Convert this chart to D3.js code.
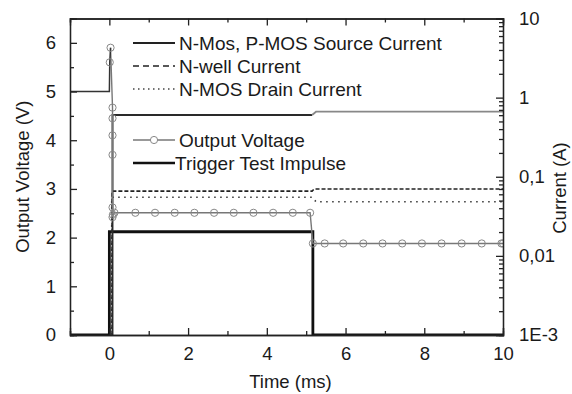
<!DOCTYPE html>
<html>
<head>
<meta charset="utf-8">
<script src="https://cdn.jsdelivr.net/npm/d3@7"></script>
<style>
  body { margin: 0; background: #fff; }
  svg { display: block; font-family: "Liberation Sans", Arial, sans-serif; }
  .axis text { font-size: 18.5px; fill: #1a1a1a; }
  .axis path, .axis line { stroke: #222; stroke-width: 1.3; }
</style>
</head>
<body>
<svg id="chart" width="572" height="394"></svg>
<script>
var W = 572, H = 394;
var x0 = 70, x1 = 503, y0 = 18.5, y1 = 335;

// ticks
var timeTicks = [0, 2, 4, 6, 8, 10];
var timeMinor = [-1, 1, 3, 5, 7, 9];
var voltTicks = [0, 1, 2, 3, 4, 5, 6];
var voltMinor = [0.5, 1.5, 2.5, 3.5, 4.5, 5.5, 6.5];
var currentTicks = [0.001, 0.01, 0.1, 1, 10];
var currentLabels = ["1E-3", "0,01", "0,1", "1", "10"];

// Output voltage (V), [time ms, volts]
var outputVoltage = [[-1, 5], [0, 5], [0.01, 5.6], [0.03, 5.9], [0.08, 4.67], [0.08, 4.45],
  [0.08, 4.1], [0.08, 3.7], [0.08, 2.62], [0.08, 2.42], [0.09, 2.47], [0.13, 2.51],
  [0.66, 2.51], [1.16, 2.51], [1.66, 2.51], [2.16, 2.51], [2.66, 2.51], [3.16, 2.51],
  [3.66, 2.51], [4.16, 2.51], [4.66, 2.51], [5.1, 2.51], [5.17, 1.88], [5.47, 1.88],
  [5.94, 1.88], [6.45, 1.88], [6.94, 1.88], [7.44, 1.88], [7.94, 1.88], [8.44, 1.88],
  [8.95, 1.88], [9.46, 1.88], [9.96, 1.88], [10, 1.88]];

// Trigger test impulse (left axis)
var triggerImpulse = [[-1, 0], [0, 0], [0, 2.12], [5.17, 2.12], [5.17, 0], [10, 0]];

// currents (A), log axis
var sourceCurrent = [[0.08, 0.0005], [0.08, 0.603], [5.15, 0.603], [5.25, 0.664], [10, 0.664]];
var nwellCurrent = [[0.07, 0.0005], [0.07, 0.0659], [5.15, 0.0659], [5.2, 0.0699], [10, 0.0699]];
var drainCurrent = [[0.06, 0.0005], [0.06, 0.055], [5.15, 0.055], [5.25, 0.0483], [10, 0.0483]];

var svg = d3.select("#chart");

var x = d3.scaleLinear().domain([-1, 10]).range([x0, x1]);
var yV = d3.scaleLinear().domain([0, 6.5]).range([y1, y0]);
var yI = d3.scaleLog().domain([0.001, 10]).range([y1, y0]);

svg.append("clipPath").attr("id", "plotclip")
  .append("rect").attr("x", x0).attr("y", y0).attr("width", x1 - x0).attr("height", y1 - y0);

var plot = svg.append("g").attr("clip-path", "url(#plotclip)");

var lineV = d3.line().x(function(d) { return x(d[0]); }).y(function(d) { return yV(d[1]); });
var lineI = d3.line().x(function(d) { return x(d[0]); }).y(function(d) { return yI(Math.max(d[1], 1e-4)); });

// trigger impulse
plot.append("path").datum(triggerImpulse)
  .attr("d", lineV).attr("fill", "none").attr("stroke", "#111").attr("stroke-width", 2.8);

// currents
plot.append("path").datum(drainCurrent)
  .attr("d", lineI).attr("fill", "none").attr("stroke", "#333").attr("stroke-width", 1.6)
  .attr("stroke-dasharray", "1.5,4.5");
plot.append("path").datum(nwellCurrent)
  .attr("d", lineI).attr("fill", "none").attr("stroke", "#222").attr("stroke-width", 1.6)
  .attr("stroke-dasharray", "4,2");
plot.append("path").datum(sourceCurrent.filter(function(d) { return d[0] <= 5.15; }))
  .attr("d", lineI).attr("fill", "none").attr("stroke", "#2a2a2a").attr("stroke-width", 1.9);
plot.append("path").datum(sourceCurrent.filter(function(d) { return d[0] >= 5.15; }))
  .attr("d", lineI).attr("fill", "none").attr("stroke", "#888").attr("stroke-width", 1.8);

// output voltage: pre-trigger part drawn darker
plot.append("path").datum(outputVoltage.filter(function(d) { return d[0] >= 0.03; }))
  .attr("d", lineV).attr("fill", "none").attr("stroke", "#777").attr("stroke-width", 1.4);
plot.append("path").datum(outputVoltage.filter(function(d) { return d[0] <= 0.03; }))
  .attr("d", lineV).attr("fill", "none").attr("stroke", "#333").attr("stroke-width", 1.5);
plot.selectAll("circle.mk").data(outputVoltage.filter(function(d) { return d[0] > 0; }))
  .enter().append("circle").attr("class", "mk")
  .attr("cx", function(d) { return x(d[0]); })
  .attr("cy", function(d) { return yV(d[1]); })
  .attr("r", 3.6).attr("fill", "none").attr("stroke", "#888").attr("stroke-width", 1);

// axes
svg.append("g").attr("class", "axis").attr("transform", "translate(0," + y1 + ")")
  .call(d3.axisBottom(x).tickValues(timeTicks).tickSize(-7).tickPadding(12).tickFormat(d3.format("d")));
svg.append("g").attr("class", "axis").attr("transform", "translate(0," + y1 + ")")
  .call(d3.axisBottom(x).tickValues(timeMinor).tickSize(-4).tickFormat(""));
svg.append("g").attr("class", "axis").attr("transform", "translate(0," + y0 + ")")
  .call(d3.axisTop(x).tickValues(timeTicks).tickSize(-7).tickFormat(""));
svg.append("g").attr("class", "axis").attr("transform", "translate(0," + y0 + ")")
  .call(d3.axisTop(x).tickValues(timeMinor).tickSize(-4).tickFormat(""));

svg.append("g").attr("class", "axis").attr("transform", "translate(" + x0 + ",0)")
  .call(d3.axisLeft(yV).tickValues(voltTicks).tickSize(-7).tickPadding(14).tickFormat(d3.format("d")));
svg.append("g").attr("class", "axis").attr("transform", "translate(" + x0 + ",0)")
  .call(d3.axisLeft(yV).tickValues(voltMinor).tickSize(-4).tickFormat(""));

var minorI = [];
[0.001, 0.01, 0.1, 1].forEach(function(dec) {
  for (var k = 2; k <= 9; k++) minorI.push(dec * k);
});
svg.append("g").attr("class", "axis").attr("transform", "translate(" + x1 + ",0)")
  .call(d3.axisRight(yI).tickValues(currentTicks).tickSize(-7).tickPadding(16)
    .tickFormat(function(d, i) { return currentLabels[i]; }));
svg.append("g").attr("class", "axis").attr("transform", "translate(" + x1 + ",0)")
  .call(d3.axisRight(yI).tickValues(minorI).tickSize(-4).tickFormat(""));

// axis titles
svg.append("text").attr("x", (x0 + x1) / 2 + 4).attr("y", 388)
  .attr("text-anchor", "middle").attr("font-size", 18.5).attr("fill", "#1a1a1a").text("Time (ms)");
svg.append("text").attr("transform", "translate(29," + ((y0 + y1) / 2) + ") rotate(-90)")
  .attr("text-anchor", "middle").attr("font-size", 18.5).attr("fill", "#1a1a1a").text("Output Voltage (V)");
svg.append("text").attr("transform", "translate(566,188) rotate(-90)")
  .attr("text-anchor", "middle").attr("font-size", 18.5).attr("fill", "#1a1a1a").text("Current (A)");

// legend
var lg = svg.append("g");
var lx0 = 133, lx1 = 175, ltx = 179;
function legendLine(y, stroke, width, dash) {
  lg.append("line").attr("x1", lx0).attr("x2", lx1).attr("y1", y).attr("y2", y)
    .attr("stroke", stroke).attr("stroke-width", width).attr("stroke-dasharray", dash || null);
}
function legendText(y, txt, tx) {
  lg.append("text").attr("x", tx || ltx).attr("y", y).attr("dy", "0.35em")
    .attr("font-size", 19).attr("fill", "#1a1a1a").text(txt);
}
legendLine(43, "#222", 1.8);
legendText(43, "N-Mos, P-MOS Source Current");
legendLine(66, "#222", 1.6, "6,4");
legendText(66, "N-well Current");
legendLine(89, "#444", 1.4, "1.5,3.5");
legendText(89, "N-MOS Drain Current");
legendLine(140, "#777", 1.4);
lg.append("circle").attr("cx", (lx0 + lx1) / 2).attr("cy", 140).attr("r", 3.6)
  .attr("fill", "#fff").attr("stroke", "#888").attr("stroke-width", 1);
legendText(140, "Output Voltage");
legendLine(163, "#111", 2.4);
legendText(163, "Trigger Test Impulse", 175);
</script>
</body>
</html>
